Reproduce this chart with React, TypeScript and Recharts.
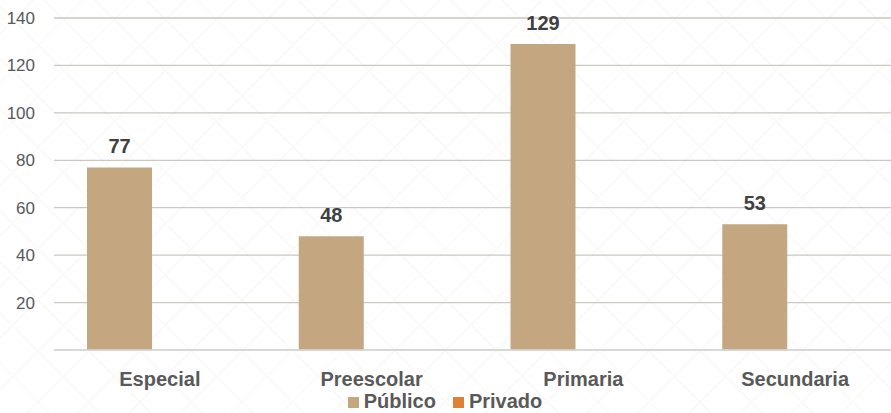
import React from 'react';
import { BarChart, Bar, XAxis, YAxis, CartesianGrid, Legend, LabelList } from 'recharts';

const categories = ['Especial', 'Preescolar', 'Primaria', 'Secundaria'];
const publico = [77, 48, 129, 53];
const privado = [0, 0, 0, 0];
const yTicks = [20, 40, 60, 80, 100, 120, 140];
const seriesOrder = ['Público', 'Privado'];

const chartData = categories.map((name, i) => ({
  name,
  'Público': publico[i],
  Privado: privado[i],
}));

const FONT = 'Arial, "Liberation Sans", Helvetica, sans-serif';

const renderLegend = (props: any) => {
  const items = [...(props.payload || [])].sort(
    (a: any, b: any) => seriesOrder.indexOf(a.value) - seriesOrder.indexOf(b.value)
  );
  return (
    <div style={{ display: 'flex', justifyContent: 'center', fontFamily: FONT, fontSize: 20, fontWeight: 700, color: '#595959', lineHeight: '20px' }}>
      {items.map((entry: any, i: number) => (
        <span key={entry.value} style={{ display: 'inline-flex', alignItems: 'center', marginLeft: i === 0 ? 0 : 17 }}>
          <span style={{ display: 'inline-block', width: 11, height: 11, background: entry.color, marginRight: 5, marginTop: 2 }} />
          {entry.value}
        </span>
      ))}
    </div>
  );
};

const App: React.FC = () => {
  return (
    <div
      style={{
        position: 'absolute',
        left: 0,
        top: 0,
        width: 891,
        height: 413,
        overflow: 'hidden',
        backgroundColor: '#ffffff',
        backgroundImage:
          'repeating-linear-gradient(45deg, transparent 0 34px, #fafafa 34px 36px), repeating-linear-gradient(-45deg, transparent 0 34px, #fafafa 34px 36px)',
      }}
    >
      <BarChart
        width={901}
        height={413}
        data={chartData}
        margin={{ top: 18, right: 0, left: 0, bottom: 0 }}
        barSize={65}
        barGap={16}
      >
        <CartesianGrid vertical={false} stroke="#c9c9c1" strokeWidth={1.3} />
        <XAxis
          dataKey="name"
          height={63}
          tickSize={0}
          tickMargin={22}
          axisLine={{ stroke: '#d9d9d9', strokeWidth: 1.5 }}
          tick={{ fill: '#595959', fontSize: 20, fontWeight: 700, fontFamily: FONT }}
        />
        <YAxis
          width={54}
          domain={[0, 140]}
          ticks={yTicks}
          axisLine={false}
          tickLine={false}
          tickSize={0}
          tickMargin={19}
          tick={{ fill: '#595959', fontSize: 17, fontFamily: FONT }}
        />
        <Legend
          verticalAlign="middle"
          align="center"
          content={renderLegend}
          wrapperStyle={{ top: 391, left: 0, width: 890 }}
        />
        <Bar dataKey="Público" fill="#c4a781" isAnimationActive={false}>
          <LabelList
            dataKey="Público"
            position="top"
            offset={14}
            style={{ fill: '#404040', fontSize: 20, fontWeight: 700, fontFamily: FONT }}
          />
        </Bar>
        <Bar dataKey="Privado" fill="#e07f38" isAnimationActive={false} />
      </BarChart>
    </div>
  );
};

export default App;
